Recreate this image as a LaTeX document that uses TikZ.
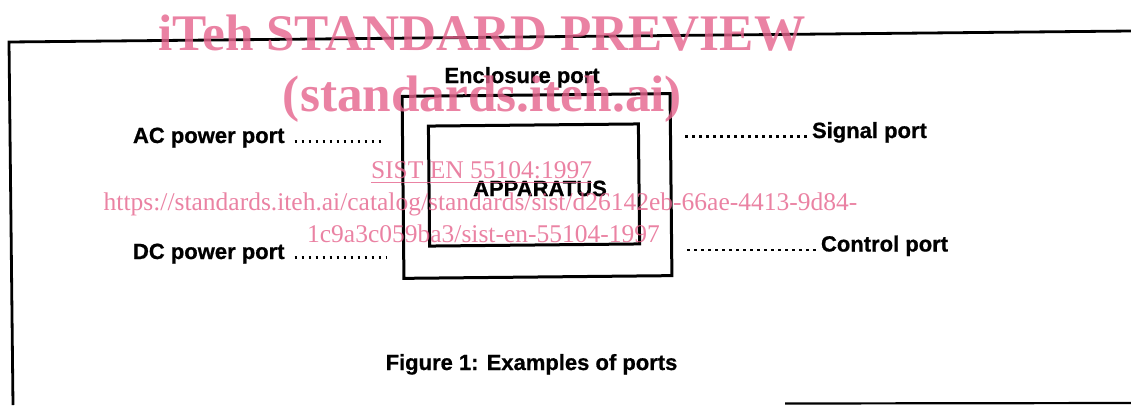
\documentclass[tikz,border=0pt]{standalone}
\usepackage{fontspec}
\setmainfont{Liberation Sans}
\newfontfamily\labfont{Liberation Sans Bold}[FakeBold=0.8]
\newfontfamily\wmfont{Liberation Serif}
\definecolor{wmpink}{RGB}{229,99,140}
\begin{document}
\begin{tikzpicture}[x=1pt,y=-1pt,
  lab/.style={font=\labfont\fontsize{22}{24}\selectfont, inner sep=0pt, outer sep=0pt},
  leader/.style={line width=2.9pt, dash pattern=on 2.9pt off 4.1pt},
  frameline/.style={line width=2.8pt},
  boxnode/.style={draw, line width=3pt, inner sep=0pt, outer sep=0pt, rotate=0.58},
  wm/.style={text=wmpink, text opacity=0.8, inner sep=0pt, outer sep=0pt},
  wmbig/.style={wm, font=\wmfont\bfseries\fontsize{51.3}{53}\selectfont},
  wmsmall/.style={wm, font=\wmfont\fontsize{25.5}{27}\selectfont}]
\useasboundingbox (0,0) rectangle (1131,405);
% frame
\coordinate (ftl) at (9,42);
\coordinate (ftr) at (1131,31);
\coordinate (fbl) at (13,405);
\coordinate (fbs) at (785,403.5);
\coordinate (fbr) at (1131,403);
\draw[frameline] (ftr) -- (ftl) -- (fbl);
\draw[line width=2.2pt] (fbs) -- (fbr);
% boxes
\node[boxnode, minimum width=268pt, minimum height=182pt] (encl) at (537,186) {};
\node[boxnode, minimum width=210pt, minimum height=120pt] (app) at (534,185) {};
\node[lab, anchor=base] (apptxt) at (540,196) {APPARATUS};
\node[lab, anchor=base] (enc) at (522,83) {Enclosure port};
% ports
\node[lab, anchor=base west] (ac) at (133,143) {AC power port};
\coordinate (acend) at (385,141.5);
\draw[leader] ([xshift=10pt,yshift=1.5pt]ac.base east) -- (acend);
\node[lab, anchor=base west] (dc) at (133,259) {DC power port};
\coordinate (dcend) at (386,257.5);
\draw[leader] ([xshift=10pt,yshift=1.5pt]dc.base east) -- (dcend);
\node[lab, anchor=base west] (sig) at (812,138) {Signal port};
\coordinate (sigstart) at (685,136.5);
\draw[leader] (sigstart) -- ([xshift=-2pt,yshift=1.5pt]sig.base west);
\node[lab, anchor=base west] (ctl) at (821,251.5) {Control port};
\coordinate (ctlstart) at (687,250);
\draw[leader] (ctlstart) -- ([xshift=-2pt,yshift=1.5pt]ctl.base west);
% caption
\node[lab, anchor=base] (cap) at (531.5,370) {Figure 1: Examples of ports};
% watermark
\node[wmbig, anchor=base] (wm1) at (482,50) {iTeh STANDARD PREVIEW};
\node[wmbig, anchor=base] (wm2) at (482.5,111) {(standards.iteh.ai)};
\node[wmsmall, anchor=base] (wm3) at (481.5,178) {SIST EN 55104:1997};
\draw[wmpink, draw opacity=0.8, line width=1.3pt] ([yshift=-4.5pt]wm3.base west) -- ([yshift=-4.5pt]wm3.base east);
\node[wmsmall, anchor=base] (wm4) at (480.5,210) {https://standards.iteh.ai/catalog/standards/sist/d26142eb-66ae-4413-9d84-};
\node[wmsmall, anchor=base] (wm5) at (483.5,242.5) {1c9a3c059ba3/sist-en-55104-1997};
\end{tikzpicture}
\end{document}
